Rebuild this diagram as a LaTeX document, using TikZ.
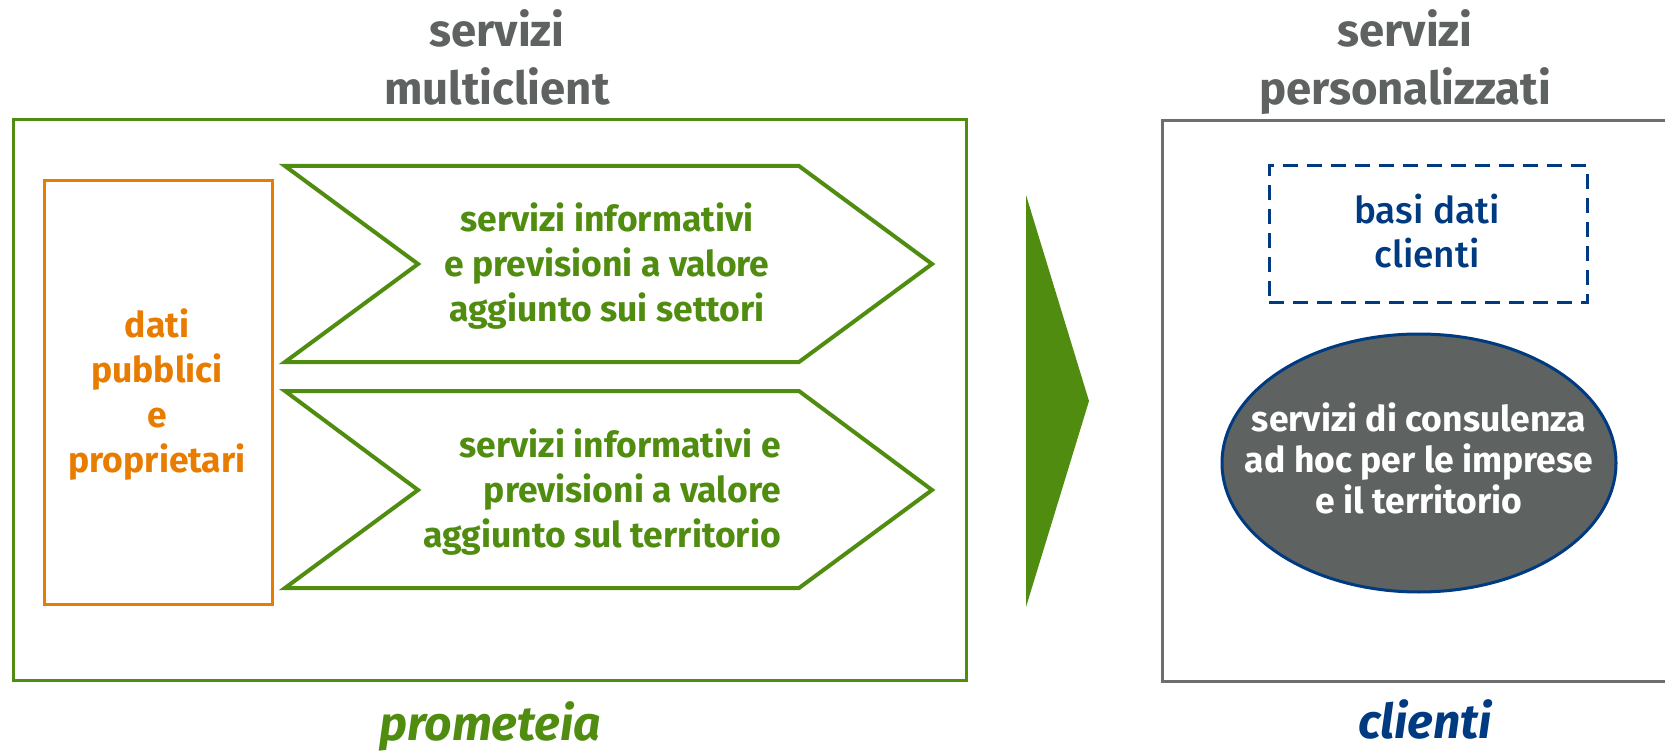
\documentclass[tikz,border=0pt]{standalone}
\usepackage{fontspec}
\setmainfont{Fira Sans}
\newfontfamily\firamed{Fira Sans Medium}
\usetikzlibrary{shapes.geometric}
\definecolor{pgreen}{RGB}{80,140,15}
\definecolor{porange}{RGB}{232,124,0}
\definecolor{pgray}{RGB}{94,98,97}
\definecolor{pblue}{RGB}{0,58,128}
\definecolor{boxgray}{RGB}{110,110,110}
\begin{document}
\begin{tikzpicture}[x=1pt,y=-1pt,
  title/.style={font=\bfseries\fontsize{45.5}{58}\selectfont, text=pgray, align=center, inner sep=0pt, anchor=base},
  body/.style={font=\bfseries\fontsize{35.5}{45}\selectfont, inner sep=0pt},
  frame/.style={inner sep=0pt, line width=3pt},
  chevron/.style={draw=pgreen, line width=4pt, line join=miter},
  brand/.style={font=\bfseries\itshape\fontsize{48}{50}\selectfont, inner sep=0pt, anchor=base}]
\useasboundingbox (0,0) rectangle (1665,751);

% titles
\node[title] (t1) at (497,105) {servizi\\multiclient};
\node[title] (t2) at (1405,105) {servizi\\personalizzati};

% left frame
\node[frame, draw=pgreen, minimum width=953pt, minimum height=560pt] (mc) at (489.5,400) {};
\node[frame, draw=porange, minimum width=228pt, minimum height=423pt] (dp) at (158,392.5) {};
\node[body, text=porange, align=center, anchor=base] (dpt) at (157,472) {dati\\pubblici\\e\\proprietari};

% chevrons
\draw[chevron] (285,166) -- (799,166) -- (932,264) -- (799,362) -- (285,362) -- (418,264) -- cycle;
\draw[chevron] (285,391) -- (799,391) -- (932,490) -- (799,588) -- (285,588) -- (418,490) -- cycle;
\node[body, text=pgreen, align=center, anchor=base] (c1) at (607,322) {servizi informativi\\e previsioni a valore\\aggiunto sui settori};
\node[body, text=pgreen, align=right, anchor=base east] (c2) at (781,547) {servizi informativi e\\previsioni a valore\\aggiunto sul territorio};

% big arrow
\fill[pgreen] (1026,195) -- (1089,401) -- (1026,607) -- cycle;
\coordinate (arr) at (1089,401);

% right frame
\node[frame, draw=boxgray, minimum width=538pt, minimum height=560pt] (pc) at (1431,401) {};
\node[frame, draw=pblue, dash pattern=on 15pt off 9pt, minimum width=318pt, minimum height=137pt] (db) at (1428,234.5) {};
\node[font=\firamed\fontsize{37}{44}\selectfont, inner sep=0pt, text=pblue, align=center, anchor=base] (dbt) at (1427,268) {basi dati\\clienti};
\node[ellipse, draw=pblue, fill=pgray, line width=3pt, minimum width=394pt, minimum height=258pt, inner sep=0pt] (el) at (1419,463) {};
\node[font=\bfseries\fontsize{35.5}{41}\selectfont, inner sep=0pt, text=white, align=center, anchor=base] (elt) at (1419,513) {servizi di consulenza\\ad hoc per le imprese\\e il territorio};

% brands
\node[brand, text=pgreen] (pr) at (490,740) {prometeia};
\node[brand, text=pblue] (cl) at (1425,738) {clienti};
\end{tikzpicture}
\end{document}
